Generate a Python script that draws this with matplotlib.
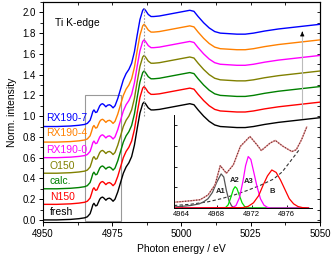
import matplotlib
matplotlib.use('Agg')
import matplotlib.pyplot as plt
from matplotlib.patches import Rectangle
from matplotlib.ticker import MultipleLocator

plt.rcParams['font.family'] = ['Liberation Sans', 'DejaVu Sans']

# normalised Ti K-edge XANES, shared shape of all samples
energy = [4950, 4955, 4960, 4963, 4965, 4966, 4967, 4967.5, 4968, 4968.4, 4969,
          4969.5, 4970, 4970.5, 4971, 4971.5, 4972, 4972.7, 4973.3, 4974, 4974.6,
          4975.3, 4976, 4977, 4978, 4979, 4980, 4981, 4982, 4983, 4984, 4985,
          4986, 4986.5, 4987, 4988, 4989, 4990, 4992, 4995, 4998, 5001, 5003,
          5004.5, 5006, 5008, 5010, 5012, 5014, 5017, 5020, 5023, 5026, 5030,
          5035, 5040, 5045, 5050]
mu = [0.0, 0.0, 0.005, 0.012, 0.02, 0.03, 0.06, 0.10, 0.145, 0.16, 0.135,
      0.14, 0.17, 0.20, 0.215, 0.22, 0.21, 0.19, 0.205, 0.21, 0.20,
      0.18, 0.20, 0.27, 0.36, 0.45, 0.51, 0.55, 0.61, 0.72, 0.88, 1.03,
      1.12, 1.135, 1.12, 1.08, 1.06, 1.06, 1.065, 1.08, 1.095, 1.11, 1.12,
      1.11, 1.06, 1.0, 0.95, 0.915, 0.90, 0.895, 0.89, 0.89, 0.90, 0.92,
      0.94, 0.955, 0.97, 0.985]

samples = ['fresh', 'N150', 'calc.', 'O150', 'RX190-0', 'RX190-4', 'RX190-7']
offsets = [0.0, 0.15, 0.30, 0.45, 0.60, 0.75, 0.90]
colors = ['black', '#ff0000', '#008000', '#808000', '#ff00ff', '#ff8000', '#0000ff']
label_x = [4952.4, 4952.4, 4952.4, 4952.4, 4951.3, 4951.3, 4951.3]
label_y = [0.074, 0.218, 0.372, 0.517, 0.67, 0.834, 0.98]

# pre-edge fit (inset)
fit_e = [4963.1, 4964, 4965, 4966.1, 4967.0, 4967.8, 4968.4, 4969.1, 4969.9,
         4970.7, 4971.8, 4972.6, 4973.1, 4974.1, 4974.7, 4975.6, 4976.6,
         4977.1, 4977.7, 4978.3]
fit_mu = [0.28, 0.31, 0.35, 0.40, 0.63, 1.12, 2.05, 1.68, 2.09,
          2.98, 3.46, 3.06, 2.78, 3.14, 3.27, 2.98, 2.73,
          2.82, 3.30, 3.92]
bg_e = [4963.1, 4965, 4967, 4968.5, 4970, 4971.5, 4973, 4974.5, 4975.5, 4976.5, 4977.5]
bg_mu = [0.12, 0.18, 0.30, 0.45, 0.63, 0.85, 1.10, 1.40, 1.75, 2.30, 2.85]
a1_e = [4963.1, 4964, 4965, 4966, 4966.5, 4967, 4967.5, 4968, 4968.5, 4968.8,
        4969.1, 4969.4, 4969.7, 4970, 4971, 4978.5]
a1_mu = [0.05, 0.08, 0.12, 0.20, 0.30, 0.45, 0.75, 1.25, 1.65, 1.50,
         0.85, 0.35, 0.10, 0.02, 0.0, 0.0]
a2_e = [4963.1, 4969.0, 4969.3, 4969.6, 4969.9, 4970.1, 4970.3, 4970.6, 4970.9,
        4971.2, 4971.5, 4978.5]
a2_mu = [0.0, 0.02, 0.15, 0.50, 0.90, 1.03, 0.95, 0.60, 0.25, 0.07, 0.0, 0.0]
a3_e = [4963.1, 4969.8, 4970.2, 4970.6, 4971.0, 4971.3, 4971.6, 4971.9, 4972.2,
        4972.6, 4973.0, 4973.4, 4973.8, 4974.2, 4978.5]
a3_mu = [0.0, 0.02, 0.12, 0.50, 1.30, 2.05, 2.49, 2.35, 1.80,
         1.05, 0.45, 0.14, 0.03, 0.0, 0.0]
b_e = [4963.1, 4971.0, 4971.6, 4972.2, 4972.8, 4973.3, 4973.8, 4974.3, 4974.8,
       4975.3, 4975.8, 4976.3, 4976.8, 4977.3, 4977.8, 4978.5]
b_mu = [0.0, 0.02, 0.08, 0.25, 0.60, 1.10, 1.55, 1.84, 1.72,
        1.35, 0.90, 0.45, 0.20, 0.07, 0.02, 0.0]
peak_names = ['A1', 'A2', 'A3', 'B']
peak_colors = ['#555555', '#00dd00', '#ff00ff', '#ff0000']
peak_lx = [4968.4, 4970.0, 4971.7, 4974.4]
peak_ly = [0.8, 1.33, 1.28, 0.8]

fig = plt.figure(figsize=(3.32, 2.62), dpi=100)
ax = fig.add_axes([0.1295, 0.1527, 0.8343, 0.8397])

for name, off, c, lx, ly in zip(samples, offsets, colors, label_x, label_y):
    ax.plot(energy, [m + off for m in mu], color=c, lw=1.0)
    ax.text(lx, ly, name, color=c, fontsize=7.5, va='center', ha='left')

ax.add_patch(Rectangle((4965.2, -0.01), 12.9, 1.21, fill=False,
                       edgecolor='#999999', lw=0.8))
ax.plot([4986.3, 4986.3], [1.0, 2.05], color='#999999', ls=(0, (1.5, 1.5)), lw=0.8)
# offset arrow: grey shaft, black head
ax.plot([5043.6, 5043.6], [0.98, 1.80], color='#bbbbbb', lw=0.8)
ax.annotate('', xy=(5043.6, 1.84), xytext=(5043.6, 1.78),
            arrowprops=dict(arrowstyle='-|>', color='black', lw=0.6,
                            mutation_scale=6))
ax.text(4954.3, 1.90, 'Ti K-edge', fontsize=7.5, va='center', ha='left')

ax.set_xlim(4950, 5050)
ax.set_ylim(-0.02, 2.1)
ax.xaxis.set_major_locator(MultipleLocator(25))
ax.xaxis.set_minor_locator(MultipleLocator(12.5))
ax.yaxis.set_major_locator(MultipleLocator(0.2))
ax.yaxis.set_minor_locator(MultipleLocator(0.1))
ax.tick_params(which='major', direction='out', length=3, width=0.7, labelsize=7, pad=2)
ax.tick_params(which='minor', direction='out', length=2, width=0.6)
ax.set_xlabel('Photon energy / eV', fontsize=7.5, labelpad=4)
ax.set_ylabel('Norm. intensity', fontsize=7.5, labelpad=4)
for s in ax.spines.values():
    s.set_linewidth(0.8)

top = ax.secondary_xaxis('top')
top.xaxis.set_major_locator(MultipleLocator(12.5))
top.tick_params(direction='in', length=2.5, width=0.6, labeltop=False)
right = ax.secondary_yaxis('right')
right.yaxis.set_major_locator(MultipleLocator(0.1))
right.tick_params(direction='in', length=2.5, width=0.6, labelright=False)

# inset with the pre-edge fit
ins = fig.add_axes([0.524, 0.2061, 0.4157, 0.355])
ins.patch.set_alpha(0)
ins.plot(bg_e, bg_mu, color='#333333', ls=(0, (3, 2)), lw=0.8)
for e, m, c in zip([a1_e, a2_e, a3_e, b_e], [a1_mu, a2_mu, a3_mu, b_mu], peak_colors):
    ins.plot(e, m, color=c, lw=0.9)
ins.plot(fit_e, fit_mu, color='#e09090', lw=1.0)
ins.plot(fit_e, fit_mu, color='#6b2a2a', ls=(0, (1, 1.5)), lw=0.8)
for name, x, y in zip(peak_names, peak_lx, peak_ly):
    ins.text(x, y, name, fontsize=5.5, ha='center', va='center', fontweight='bold',
             color='#222222')
ins.set_xlim(4963.1, 4978.9)
ins.set_ylim(0, 4.5)
ins.xaxis.set_major_locator(MultipleLocator(4))
ins.yaxis.set_major_locator(MultipleLocator(1))
ins.tick_params(direction='in', length=2, width=0.6, labelsize=5.5, pad=2,
                labelleft=False)
ins.spines['top'].set_visible(False)
ins.spines['right'].set_visible(False)
for s in ['left', 'bottom']:
    ins.spines[s].set_linewidth(0.7)

fig.savefig('out.png', dpi=100)
